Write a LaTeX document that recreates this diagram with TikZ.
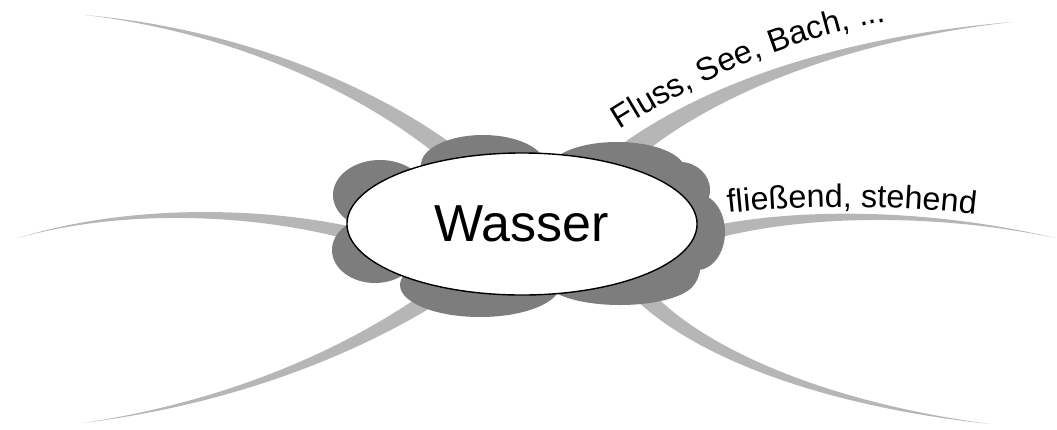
\documentclass[tikz,border=0pt]{standalone}
\usepackage{fontspec}
\setmainfont{Liberation Sans}
\usetikzlibrary{calc,decorations.text,shapes.geometric}
\definecolor{branchgray}{RGB}{182,182,182}
\definecolor{cloudgray}{RGB}{125,125,125}
\newcommand\mybranch[7]{%
  \fill[branch] ($(#1)!#5!90:(#2)$) .. controls ($(#2)!#6!90:(#3)$) and ($(#3)!#7!90:(#4)$) .. (#4)
     .. controls ($(#3)!#7!-90:(#4)$) and ($(#2)!#6!-90:(#3)$) .. ($(#1)!#5!-90:(#2)$) -- cycle;}
\begin{document}
\begin{tikzpicture}[x=0.025cm,y=-0.025cm,
  branch/.style={fill=branchgray},
  cloudpart/.style={fill=cloudgray},
  centre/.style={ellipse, draw, line width=1pt, fill=white, minimum width=8.75cm, minimum height=3.55cm, inner sep=0pt, font=\fontsize{37}{37}\selectfont}]
\useasboundingbox (0,0) rectangle (1057,429);
\fill[white] (0,0) rectangle (1057,429);
% branch 1 upper left
\coordinate (a0) at (445,150); \coordinate (a1) at (360,85); \coordinate (a2) at (230,30); \coordinate (a3) at (85,15);
\mybranch{a0}{a1}{a2}{a3}{6.4pt}{4pt}{1.5pt}
% branch 2 left middle
\coordinate (b0) at (345,232); \coordinate (b1) at (260,212); \coordinate (b2) at (130,205); \coordinate (b3) at (18,238);
\mybranch{b0}{b1}{b2}{b3}{4.6pt}{3pt}{1.2pt}
% branch 3 lower left
\coordinate (c0) at (440,292); \coordinate (c1) at (370,340); \coordinate (c2) at (250,400); \coordinate (c3) at (83,423);
\mybranch{c0}{c1}{c2}{c3}{6pt}{4pt}{1.5pt}
% branch 4 upper right
\coordinate (d0) at (625,155); \coordinate (d1) at (700,95); \coordinate (d2) at (830,40); \coordinate (d3) at (1012,22);
\mybranch{d0}{d1}{d2}{d3}{7.5pt}{5pt}{2pt}
% branch 5 right middle
\coordinate (e0) at (715,232); \coordinate (e1) at (800,212); \coordinate (e2) at (930,210); \coordinate (e3) at (1055,238);
\mybranch{e0}{e1}{e2}{e3}{4.6pt}{3pt}{1.2pt}
% branch 6 lower right
\coordinate (f0) at (640,292); \coordinate (f1) at (700,355); \coordinate (f2) at (830,405); \coordinate (f3) at (990,424);
\mybranch{f0}{f1}{f2}{f3}{6pt}{4pt}{1.5pt}
% cloud
\fill[cloudpart] (483,165) ellipse [x radius=62, y radius=30];
\fill[cloudpart] (617,170) ellipse [x radius=68, y radius=28];
\fill[cloudpart] (380,195) ellipse [x radius=47, y radius=35];
\fill[cloudpart] (375,250) ellipse [x radius=43, y radius=33];
\fill[cloudpart] (480,285) ellipse [x radius=80, y radius=32];
\fill[cloudpart] (620,280) ellipse [x radius=75, y radius=25];
\fill[cloudpart] (697,232) ellipse [x radius=28, y radius=38];
\fill[cloudpart] (680,190) ellipse [x radius=30, y radius=28];
\fill[cloudpart] (670,268) ellipse [x radius=30, y radius=28];
\node[centre] (wasser) at (522,224) {Wasser};
% labels
\path[decorate, decoration={text along path, text align={left},
  text={|\fontsize{23}{23}\selectfont|Fluss{,} See{,} Bach{,} ...}}]
  (620,130) .. controls (700,80) and (800,30) .. (930,15);
\path[decorate, decoration={text along path, text align={left},
  text={|\fontsize{23}{23}\selectfont|flie{ß}end{,} stehend}}]
  (728,213) .. controls (800,205) and (900,204) .. (995,217);
\end{tikzpicture}
\end{document}
